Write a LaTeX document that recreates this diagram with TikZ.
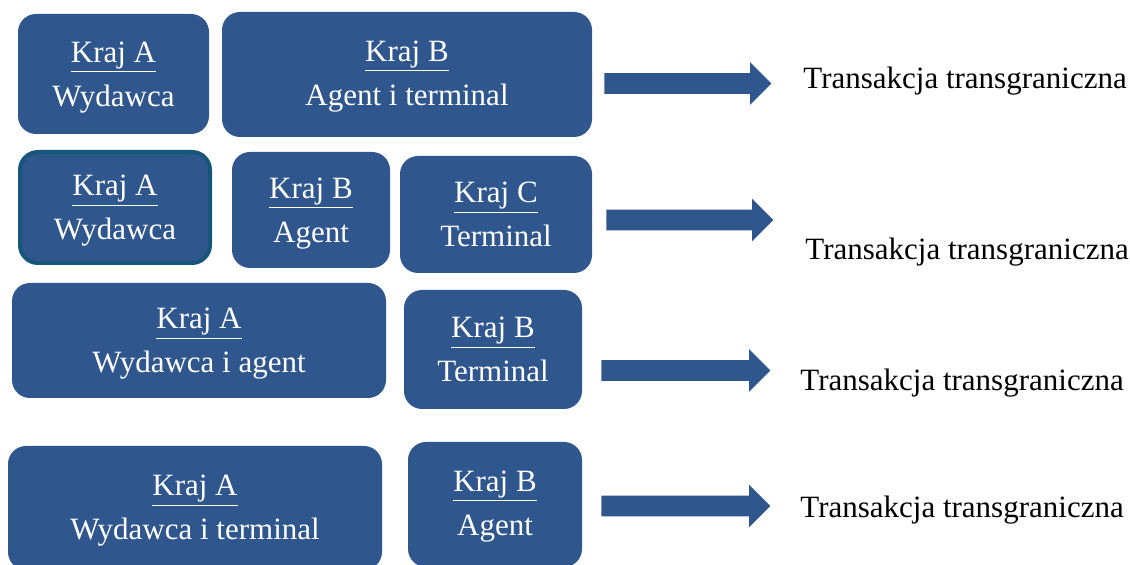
\documentclass[tikz,border=0pt]{standalone}
\usepackage{fontspec}
\setmainfont{Liberation Serif}
\usetikzlibrary{shapes.arrows}

\definecolor{boxblue}{RGB}{47,86,141}
\definecolor{boxedge}{RGB}{22,86,122}

\begin{document}
\begin{tikzpicture}[x=0.5pt, y=-0.5pt,
    kraj/.style={rectangle, rounded corners=9pt, fill=boxblue, text=white, align=center,
        inner sep=0pt, text depth=#1, font=\fontsize{15.5}{22}\selectfont},
    kraj/.default=0pt,
    textdown/.style={execute at begin node={\rule{0pt}{#1}}},
    blockarrow/.style={single arrow, fill=boxblue, inner xsep=0pt, inner ysep=5pt, minimum width=21pt,
        single arrow head extend=5.5pt, single arrow tip angle=90, anchor=tail},
    opis/.style={anchor=west, inner sep=0pt, font=\fontsize{15.5}{22}\selectfont}]
    \useasboundingbox (0,0) rectangle (1130,565);

    % row 1
    \node[kraj, minimum width=95.5pt, minimum height=60pt] (a1) at (113.5,74) {\underline{Kraj A}\\Wydawca};
    \node[kraj=1.4pt, minimum width=185pt, minimum height=62.5pt] (b1) at (407,74.5) {\underline{Kraj B}\\Agent i terminal};
    \node[blockarrow, minimum height=83.5pt] (arr1) at (604,83.5) {};
    \node[opis] (t1) at (803,81) {Transakcja transgraniczna};

    % row 2
    \node[kraj, textdown=15.1pt, draw=boxedge, line width=2pt, minimum width=95pt, minimum height=55.5pt] (a2) at (115,207.5) {\underline{Kraj A}\\Wydawca};
    \node[kraj, textdown=12.6pt, minimum width=79pt, minimum height=58pt] (b2) at (311,210) {\underline{Kraj B}\\Agent};
    \node[kraj, textdown=13.6pt, minimum width=96pt, minimum height=58.5pt] (c2) at (496,214.5) {\underline{Kraj C}\\Terminal};
    \node[blockarrow, minimum height=83.5pt] (arr2) at (606,220) {};
    \node[opis] (t2) at (805,252) {Transakcja transgraniczna};

    % row 3
    \node[kraj, textdown=12.6pt, minimum width=187pt, minimum height=57.5pt] (a3) at (199,340.5) {\underline{Kraj A}\\Wydawca i agent};
    \node[kraj, textdown=12.1pt, minimum width=89pt, minimum height=59.5pt] (b3) at (493,349.5) {\underline{Kraj B}\\Terminal};
    \node[blockarrow, minimum height=84.5pt] (arr3) at (601,370.5) {};
    \node[opis] (t3) at (800,383) {Transakcja transgraniczna};

    % row 4
    \node[kraj=0.4pt, minimum width=187pt, minimum height=62pt] (a4) at (195,508) {\underline{Kraj A}\\Wydawca i terminal};
    \node[kraj=1.4pt, minimum width=87pt, minimum height=62.5pt] (b4) at (495,504.5) {\underline{Kraj B}\\Agent};
    \node[blockarrow, minimum height=84.5pt] (arr4) at (601,506) {};
    \node[opis] (t4) at (800,510) {Transakcja transgraniczna};
\end{tikzpicture}
\end{document}
